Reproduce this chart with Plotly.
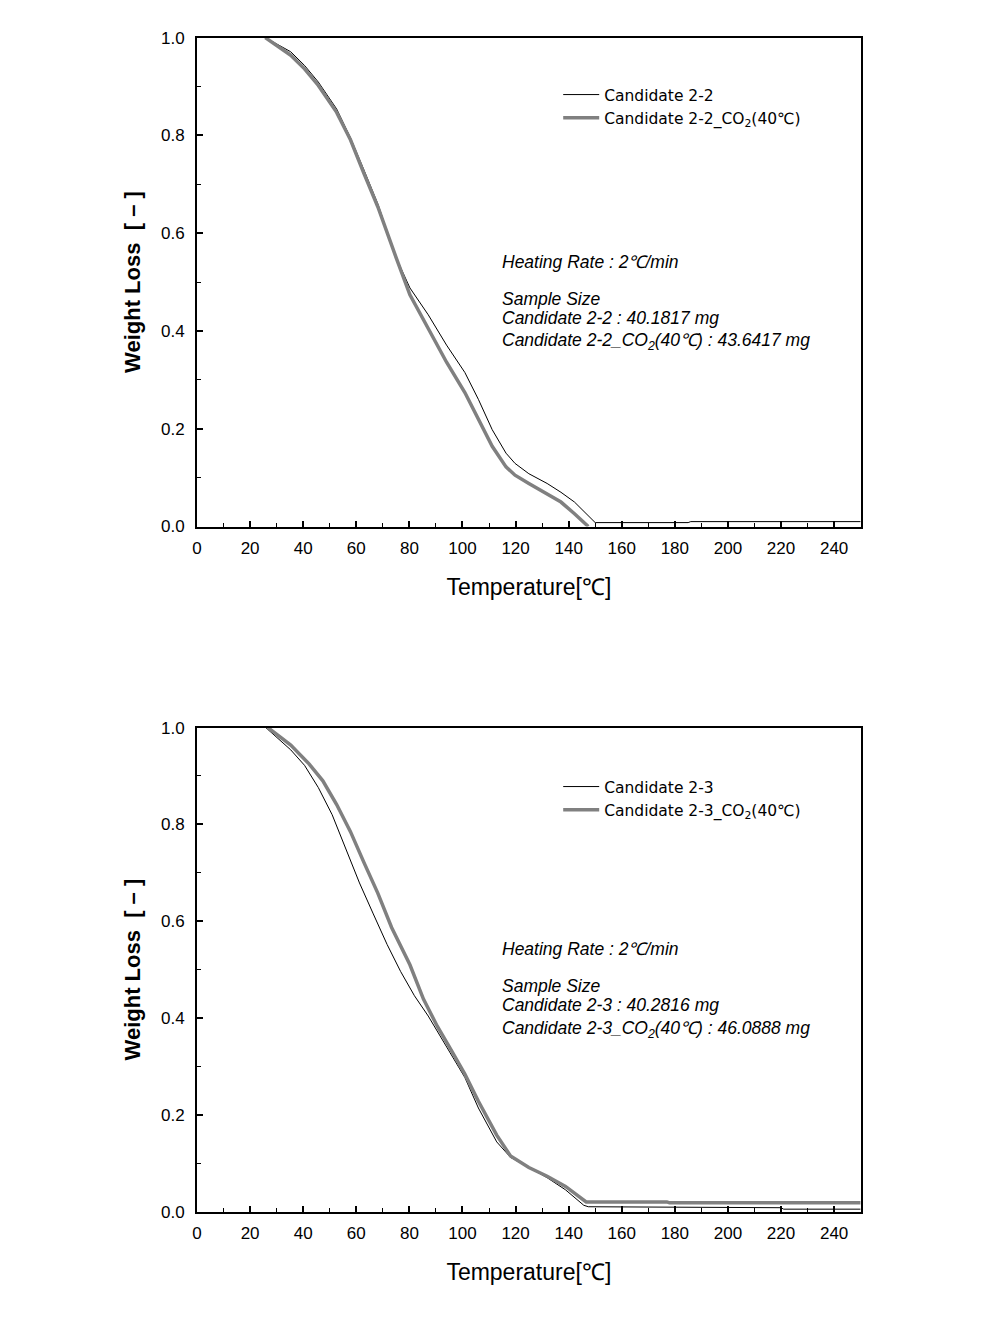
import plotly.graph_objects as go
from plotly.subplots import make_subplots

# ---- data ----
t22 = [25.7, 35.3, 40.5, 45.7, 52.6, 57.8, 62.9, 68.1, 75.0, 80.2, 87.1, 94.0, 100.9, 106.0, 111.2, 116.4, 119.8, 125.0, 131.9, 137.1, 142.2, 147.4, 150.0, 185.0, 186.0, 250.0]
w22 = [1.0, 0.971, 0.943, 0.909, 0.854, 0.795, 0.729, 0.660, 0.550, 0.488, 0.433, 0.371, 0.315, 0.260, 0.198, 0.150, 0.129, 0.108, 0.088, 0.070, 0.050, 0.022, 0.008, 0.008, 0.010, 0.010]

t22c = [25.7, 35.3, 40.5, 45.7, 52.6, 57.8, 62.9, 68.1, 75.0, 80.2, 87.1, 94.0, 100.9, 106.0, 111.2, 116.4, 119.8, 125.0, 131.9, 137.1, 142.2, 147.4]
w22c = [1.0, 0.964, 0.936, 0.902, 0.847, 0.791, 0.722, 0.654, 0.550, 0.474, 0.405, 0.336, 0.274, 0.218, 0.164, 0.122, 0.105, 0.088, 0.067, 0.050, 0.026, 0.0]

t23 = [25.9, 35.3, 40.5, 45.7, 50.9, 56.0, 61.2, 66.4, 71.6, 76.7, 81.9, 87.1, 94.0, 100.9, 106.0, 112.9, 118.1, 125.0, 131.9, 138.8, 145.7, 147.4, 220.0, 221.0, 250.0]
w23 = [1.0, 0.954, 0.922, 0.876, 0.820, 0.749, 0.679, 0.615, 0.552, 0.496, 0.446, 0.404, 0.341, 0.277, 0.214, 0.144, 0.112, 0.091, 0.070, 0.045, 0.013, 0.010, 0.008, 0.005, 0.005]

t23c = [26.7, 35.3, 42.2, 47.4, 52.6, 57.8, 62.9, 68.1, 73.3, 80.2, 85.3, 90.5, 95.7, 100.9, 106.0, 112.9, 118.1, 125.0, 131.9, 138.8, 146.6, 177.0, 178.0, 250.0]
w23c = [1.0, 0.964, 0.925, 0.890, 0.841, 0.785, 0.721, 0.658, 0.587, 0.510, 0.439, 0.383, 0.334, 0.284, 0.228, 0.158, 0.115, 0.091, 0.073, 0.052, 0.020, 0.020, 0.018, 0.018]

x_ticks = [0, 20, 40, 60, 80, 100, 120, 140, 160, 180, 200, 220, 240]
y_ticks = [0.0, 0.2, 0.4, 0.6, 0.8, 1.0]

fig = make_subplots(rows=2, cols=1)

BLACK = "#000000"
GRAY = "#808080"

fig.add_trace(go.Scatter(x=t22, y=w22, mode="lines", line=dict(color=BLACK, width=1),
                         name="Candidate 2-2", legend="legend"), row=1, col=1)
fig.add_trace(go.Scatter(x=t22c, y=w22c, mode="lines", line=dict(color=GRAY, width=3.5),
                         name="Candidate 2-2_CO<sub>2</sub>(40℃)", legend="legend"), row=1, col=1)
fig.add_trace(go.Scatter(x=t23, y=w23, mode="lines", line=dict(color=BLACK, width=1),
                         name="Candidate 2-3", legend="legend2"), row=2, col=1)
fig.add_trace(go.Scatter(x=t23c, y=w23c, mode="lines", line=dict(color=GRAY, width=3.5),
                         name="Candidate 2-3_CO<sub>2</sub>(40℃)", legend="legend2"), row=2, col=1)

W, H = 990, 1331
xl, xr = 193 / W, 860 / W
top1, bot1 = 1 - 29 / H, 1 - 525 / H
top2, bot2 = 1 - 729 / H, 1 - 1220 / H

tickfont = dict(family="Liberation Sans, Arial", size=17, color="black")
axcommon = dict(showline=True, linewidth=2, linecolor="black", mirror=True,
                ticks="inside", ticklen=6, tickwidth=1.5, tickcolor="black",
                showgrid=False, zeroline=False, tickfont=tickfont)

for i, (yt, yb) in enumerate([(top1, bot1), (top2, bot2)], start=1):
    xa = "xaxis" if i == 1 else "xaxis2"
    ya = "yaxis" if i == 1 else "yaxis2"
    fig.update_layout(**{
        xa: dict(domain=[xl, xr], range=[0, 250], tickvals=x_ticks, ticklabelstandoff=5,
                 minor=dict(ticks="inside", ticklen=4, tickwidth=1, tickcolor="black", dtick=10, tick0=0),
                 title=dict(text="Temperature[℃]", font=dict(family="Liberation Sans, Arial", size=23, color="black"), standoff=22),
                 anchor="y" if i == 1 else "y2", **axcommon),
        ya: dict(domain=[yb, yt], range=[0, 1.0], tickvals=y_ticks, tickformat=".1f", ticklabelstandoff=7,
                 minor=dict(ticks="inside", ticklen=4, tickwidth=1, tickcolor="black", dtick=0.1, tick0=0),
                 title=dict(text="<b>Weight Loss  [ – ]</b>", font=dict(family="Liberation Sans, Arial", size=22, color="black"), standoff=14),
                 anchor="x" if i == 1 else "x2", **axcommon),
    })

legfont = dict(family="DejaVu Sans", size=15.5, color="black")
fig.update_layout(
    legend=dict(x=556 / W, y=1 - 70 / H, xanchor="left", yanchor="top", font=legfont,
                bgcolor="rgba(0,0,0,0)", tracegroupgap=0, itemwidth=36),
    legend2=dict(x=556 / W, y=1 - 772 / H, xanchor="left", yanchor="top", font=legfont,
                 bgcolor="rgba(0,0,0,0)", tracegroupgap=0, itemwidth=36),
)

annfont = dict(family="Liberation Sans, Arial", size=17.5, color="black")
notes = [
    ("<i>Heating Rate : 2℃/min</i>", 0.542),
    ("<i>Sample Size</i>", 0.466),
]
sub1 = [("<i>Candidate 2-2 : 40.1817 mg</i>", 0.427),
        ("<i>Candidate 2-2_CO<sub>2</sub>(40℃) : 43.6417 mg</i>", 0.379)]
sub2 = [("<i>Candidate 2-3 : 40.2816 mg</i>", 0.427),
        ("<i>Candidate 2-3_CO<sub>2</sub>(40℃) : 46.0888 mg</i>", 0.377)]

for xr_, yr_, lines in [("x", "y", notes + sub1), ("x2", "y2", notes + sub2)]:
    for text, yv in lines:
        fig.add_annotation(x=114.0, y=yv, xref=xr_, yref=yr_, text=text, showarrow=False,
                           xanchor="left", yanchor="middle", font=annfont)

fig.update_layout(width=W, height=H, margin=dict(l=0, r=0, t=0, b=0),
                  paper_bgcolor="white", plot_bgcolor="white", showlegend=True)

fig.write_html("out.html")
